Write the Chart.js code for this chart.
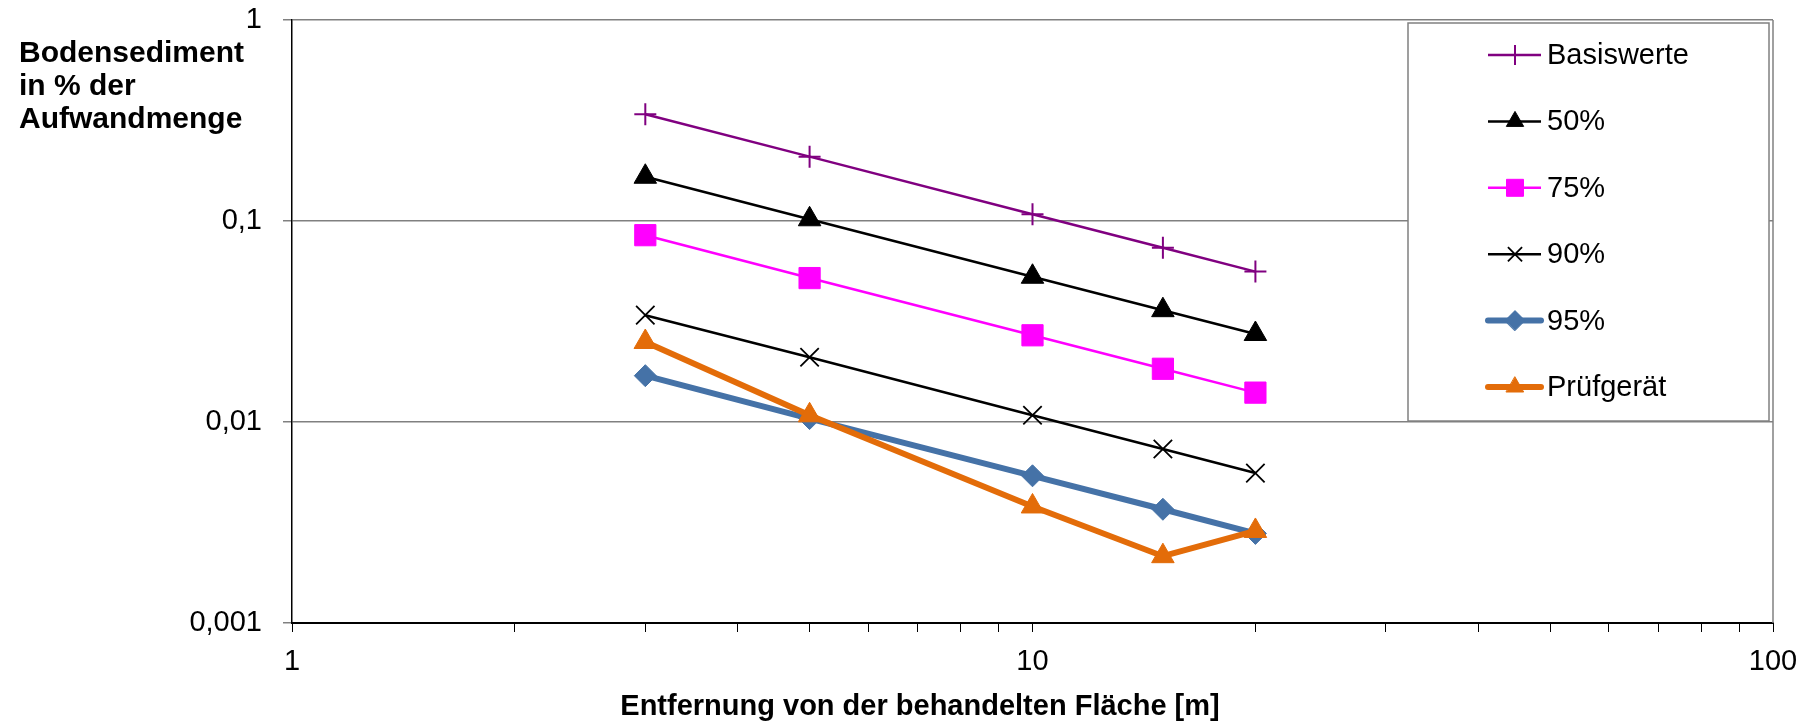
<!DOCTYPE html>
<html>
<head>
<meta charset="utf-8">
<script src="https://cdn.jsdelivr.net/npm/chart.js@4.4.1/dist/chart.umd.min.js"></script>
<style>
    html, body { margin: 0; padding: 0; background: #fff; }
    #wrap { width: 1811px; height: 724px; position: relative; }
</style>
</head>
<body>
<div id="wrap"><canvas id="chart"></canvas></div>
<script>
// Distances (m) and sediment values (% of applied amount)
const distances = [3, 5, 10, 15, 20];
const basiswerte = [0.34, 0.209, 0.108, 0.0736, 0.056];
const p50 = [0.166, 0.102, 0.0528, 0.036, 0.0274];
const p75 = [0.085, 0.052, 0.027, 0.0184, 0.014];
const p90 = [0.034, 0.021, 0.0108, 0.00734, 0.00557];
const p95 = [0.017, 0.0104, 0.0054, 0.00368, 0.00279];
const pruefgeraet = [0.025, 0.0108, 0.0038, 0.00215, 0.00287];

const seriesNames = ["Basiswerte", "50%", "75%", "90%", "95%", "Prüfgerät"];

// Axis ticks
const xTickValues = [1, 2, 3, 4, 5, 6, 7, 8, 9, 10, 20, 30, 40, 50, 60, 70, 80, 90, 100];
const xLabelValues = [1, 10, 100];
const xLabels = ["1", "10", "100"];
const yTickValues = [0.001, 0.01, 0.1, 1];
const yLabels = ["0,001", "0,01", "0,1", "1"];

const yTitleLines = ["Bodensediment", "in % der", "Aufwandmenge"];
const xTitle = "Entfernung von der behandelten Fläche [m]";

const FONT = '"Liberation Sans", Arial, sans-serif';

const toPoints = (ys) => distances.map((x, i) => ({ x: x, y: ys[i] }));

const styles = [
    { color: "#800080", width: 2.5, style: "cross", radius: 11, pbw: 2 },
    { color: "#000000", width: 2.5, style: "triangle", radius: 13, pbw: 1 },
    { color: "#FF00FF", width: 2.5, style: "rect", radius: 15, pbw: 1 },
    { color: "#000000", width: 2.5, style: "crossRot", radius: 13, pbw: 1.8 },
    { color: "#4572A7", width: 6, style: "rectRot", radius: 11, pbw: 1 },
    { color: "#E36C09", width: 6, style: "triangle", radius: 13, pbw: 1 },
];
const legendRadius = [10, 10, 12, 10, 10, 10];
const values = [basiswerte, p50, p75, p90, p95, pruefgeraet];

const datasets = seriesNames.map((name, i) => ({
    label: name,
    data: toPoints(values[i]),
    borderColor: styles[i].color,
    backgroundColor: styles[i].color,
    borderWidth: styles[i].width,
    pointStyle: styles[i].style,
    pointRadius: styles[i].radius,
    pointHoverRadius: styles[i].radius,
    pointBackgroundColor: styles[i].color,
    pointBorderColor: styles[i].color,
    pointBorderWidth: styles[i].pbw,
    tension: 0,
    fill: false,
    order: name === "Prüfgerät" ? 0 : i + 1,
}));

// Texts, plot frame and the boxed legend inside the plot
const extras = {
    id: "extras",
    afterDraw(chart) {
        const ctx = chart.ctx;
        const area = chart.chartArea;
        ctx.save();

        // right edge of the plot area
        ctx.strokeStyle = "#808080";
        ctx.lineWidth = 1.5;
        ctx.beginPath();
        ctx.moveTo(area.right, area.top);
        ctx.lineTo(area.right, area.bottom);
        ctx.stroke();

        // y title (horizontal, top left)
        ctx.fillStyle = "#000";
        ctx.font = "bold 30px " + FONT;
        ctx.textAlign = "left";
        ctx.textBaseline = "alphabetic";
        yTitleLines.forEach((t, i) => ctx.fillText(t, 19, 62 + i * 33));

        // x title
        ctx.font = "bold 29px " + FONT;
        ctx.textAlign = "center";
        ctx.fillText(xTitle, 920, 715);

        // legend box
        const lx = 1408, ly = 23, lw = 361, lh = 398;
        ctx.fillStyle = "#fff";
        ctx.fillRect(lx, ly, lw, lh);
        ctx.strokeStyle = "#808080";
        ctx.lineWidth = 1.5;
        ctx.strokeRect(lx, ly, lw, lh);

        ctx.font = "29px " + FONT;
        ctx.textAlign = "left";
        ctx.textBaseline = "middle";
        chart.data.datasets.forEach((ds, i) => {
            const y = 55 + i * 66.4;
            ctx.strokeStyle = ds.borderColor;
            ctx.lineWidth = ds.borderWidth;
            ctx.lineCap = ds.borderWidth > 3 ? "round" : "butt";
            ctx.beginPath();
            ctx.moveTo(1488, y);
            ctx.lineTo(1541, y);
            ctx.stroke();
            ctx.fillStyle = ds.pointBackgroundColor;
            ctx.lineWidth = ds.pointBorderWidth;
            Chart.helpers.drawPoint(ctx, {
                pointStyle: ds.pointStyle,
                radius: legendRadius[i],
                borderWidth: ds.pointBorderWidth,
                rotation: 0,
            }, 1515, y);
            ctx.fillStyle = "#000";
            ctx.fillText(ds.label, 1547, y + 1);
        });
        ctx.restore();
    },
};

new Chart(document.getElementById("chart"), {
    type: "line",
    data: { datasets: datasets },
    options: {
        responsive: true,
        maintainAspectRatio: false,
        animation: false,
        layout: { autoPadding: false, padding: { top: 20, right: 38, left: 0, bottom: 0 } },
        plugins: {
            legend: { display: false },
            tooltip: { enabled: false },
        },
        scales: {
            x: {
                type: "logarithmic",
                position: "bottom",
                min: 1,
                max: 100,
                afterBuildTicks: (s) => { s.ticks = xTickValues.map((v) => ({ value: v })); },
                afterFit: (s) => { s.height = 101; },
                ticks: {
                    autoSkip: false,
                    maxRotation: 0,
                    color: "#000",
                    padding: 13,
                    font: { family: FONT, size: 29 },
                    callback: (v) => {
                        const k = xLabelValues.indexOf(v);
                        return k >= 0 ? xLabels[k] : "";
                    },
                },
                grid: {
                    drawOnChartArea: false,
                    drawTicks: true,
                    tickLength: 9,
                    tickColor: "#000",
                    tickWidth: 1,
                },
                border: { color: "#000", width: 2 },
            },
            y: {
                type: "logarithmic",
                min: 0.001,
                max: 1,
                afterBuildTicks: (s) => { s.ticks = yTickValues.map((v) => ({ value: v })); },
                afterFit: (s) => {
                    s.width = 292;
                    s.paddingTop = 0;
                    s.paddingBottom = 0;
                },
                ticks: {
                    color: "#000",
                    padding: 21,
                    font: { family: FONT, size: 29 },
                    callback: (v) => {
                        const k = yTickValues.indexOf(v);
                        return k >= 0 ? yLabels[k] : "";
                    },
                },
                grid: {
                    color: "#808080",
                    lineWidth: 1.5,
                    drawTicks: true,
                    tickLength: 9,
                    tickColor: "#808080",
                },
                border: { color: "#000", width: 1.5 },
            },
        },
    },
    plugins: [extras],
});
</script>
</body>
</html>
